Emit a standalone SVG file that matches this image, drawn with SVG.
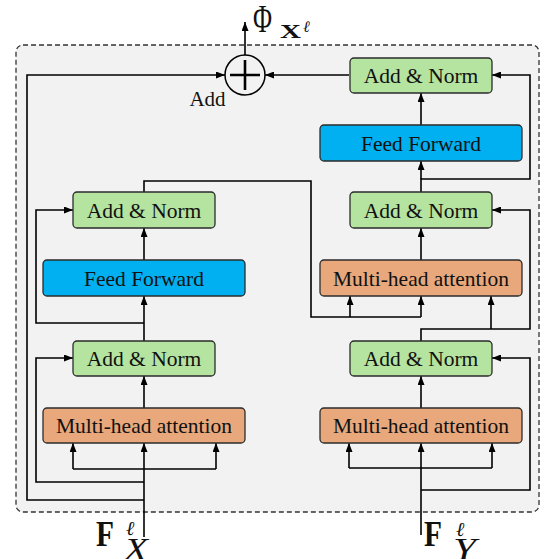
<svg xmlns="http://www.w3.org/2000/svg" width="544" height="559" viewBox="0 0 544 559">
<style>
.box{stroke:#2b2b2b;stroke-width:1.3}
.an{fill:#b5e3a0}
.ff{fill:#00b0f0}
.mh{fill:#e8a87c}
.t{font-family:"Liberation Serif","Times New Roman",serif;font-size:21.5px;fill:#111;text-anchor:middle}
.ln{fill:none;stroke:#000;stroke-width:1.6}
.m{font-family:"Liberation Serif","Times New Roman",serif;fill:#111}
</style>
<defs>
<marker id="ah" markerUnits="userSpaceOnUse" markerWidth="9" markerHeight="7" refX="9" refY="3.5" orient="auto">
<path d="M0,0 L9,3.5 L0,7 z" fill="#000"/>
</marker>
</defs>
<rect x="16" y="45" width="523" height="467" rx="7" fill="#f2f2f2" stroke="#333" stroke-width="1.3" stroke-dasharray="5,3"/>

<g id="connectors">
<!-- left column -->
<path class="ln" d="M144,537 V443" marker-end="url(#ah)"/>
<path class="ln" d="M73,469 H216"/>
<path class="ln" d="M73,469 V443" marker-end="url(#ah)"/>
<path class="ln" d="M216,469 V443" marker-end="url(#ah)"/>
<path class="ln" d="M144,482 H36 V358 H73" marker-end="url(#ah)"/>
<path class="ln" d="M144,500 H27 V75 H225" marker-end="url(#ah)"/>
<path class="ln" d="M144,408 V376" marker-end="url(#ah)"/>
<path class="ln" d="M144,341 V296" marker-end="url(#ah)"/>
<path class="ln" d="M144,323 H36 V210 H73" marker-end="url(#ah)"/>
<path class="ln" d="M144,260 V228" marker-end="url(#ah)"/>
<path class="ln" d="M144,192 V181 H311 V317 H421"/>
<path class="ln" d="M350,317 V296" marker-end="url(#ah)"/>
<path class="ln" d="M421,317 V296" marker-end="url(#ah)"/>
<!-- right column -->
<path class="ln" d="M421,535 V443" marker-end="url(#ah)"/>
<path class="ln" d="M349,468 H492"/>
<path class="ln" d="M349,468 V443" marker-end="url(#ah)"/>
<path class="ln" d="M492,468 V443" marker-end="url(#ah)"/>
<path class="ln" d="M421,490 H530 V358 H492" marker-end="url(#ah)"/>
<path class="ln" d="M421,408 V376" marker-end="url(#ah)"/>
<path class="ln" d="M421,341 V329 H530 V210 H492" marker-end="url(#ah)"/>
<path class="ln" d="M491,329 V296" marker-end="url(#ah)"/>
<path class="ln" d="M421,260 V228" marker-end="url(#ah)"/>
<path class="ln" d="M421,192 V179 H530 V75 H492" marker-end="url(#ah)"/>
<path class="ln" d="M421,179 V161" marker-end="url(#ah)"/>
<path class="ln" d="M421,125 V93" marker-end="url(#ah)"/>
<path class="ln" d="M349,75 H265" marker-end="url(#ah)"/>
<path class="ln" d="M245,55 V22" marker-end="url(#ah)"/>
</g>

<g id="add">
<circle cx="245" cy="75" r="20" fill="#f2f2f2" stroke="#000" stroke-width="1.5"/>
<path d="M230,75 H260 M245,60 V90" stroke="#000" stroke-width="2.6"/>
<text class="t" x="207.5" y="106" style="font-size:21px">Add</text>
</g>

<g id="left-mha"><rect class="box mh" x="43" y="408" width="202" height="35" rx="4"/><text class="t" x="144" y="433">Multi-head attention</text></g>
<g id="left-an1"><rect class="box an" x="73" y="341" width="142" height="35" rx="4"/><text class="t" x="144" y="366">Add &amp; Norm</text></g>
<g id="left-ff"><rect class="box ff" x="43" y="260" width="202" height="36" rx="4"/><text class="t" x="144" y="285.5">Feed Forward</text></g>
<g id="left-an2"><rect class="box an" x="73" y="192" width="142" height="36" rx="4"/><text class="t" x="144" y="217.5">Add &amp; Norm</text></g>

<g id="right-mha1"><rect class="box mh" x="320" y="408" width="202" height="35" rx="4"/><text class="t" x="421" y="433">Multi-head attention</text></g>
<g id="right-an1"><rect class="box an" x="350" y="341" width="142" height="35" rx="4"/><text class="t" x="421" y="366">Add &amp; Norm</text></g>
<g id="right-mha2"><rect class="box mh" x="320" y="260" width="202" height="36" rx="4"/><text class="t" x="421" y="285.5">Multi-head attention</text></g>
<g id="right-an2"><rect class="box an" x="350" y="192" width="142" height="36" rx="4"/><text class="t" x="421" y="217.5">Add &amp; Norm</text></g>
<g id="right-ff"><rect class="box ff" x="320" y="125" width="202" height="36" rx="4"/><text class="t" x="421" y="150.5">Feed Forward</text></g>
<g id="right-an3"><rect class="box an" x="350" y="58" width="142" height="35" rx="4"/><text class="t" x="421" y="83">Add &amp; Norm</text></g>

<g id="output-label">
<text class="m" x="253" y="32" font-size="40" textLength="19" lengthAdjust="spacingAndGlyphs">Φ</text>
<text class="m" x="280" y="37.5" font-size="19" font-weight="bold" textLength="21" lengthAdjust="spacingAndGlyphs">X</text>
<text class="m" x="303" y="31.5" font-size="16" font-style="italic">ℓ</text>
</g>
<g id="input-x">
<text class="m" x="96" y="546" font-size="36" font-weight="bold" textLength="18" lengthAdjust="spacingAndGlyphs">F</text>
<text class="m" x="126" y="535" font-size="20" font-style="italic">ℓ</text>
<text class="m" x="124" y="560" font-size="32" font-style="italic" textLength="24" lengthAdjust="spacingAndGlyphs">X</text>
</g>
<g id="input-y">
<text class="m" x="424" y="546" font-size="36" font-weight="bold" textLength="18" lengthAdjust="spacingAndGlyphs">F</text>
<text class="m" x="456" y="536" font-size="20" font-style="italic">ℓ</text>
<text class="m" x="453" y="560" font-size="32" font-style="italic" textLength="23" lengthAdjust="spacingAndGlyphs">Y</text>
</g>
</svg>
